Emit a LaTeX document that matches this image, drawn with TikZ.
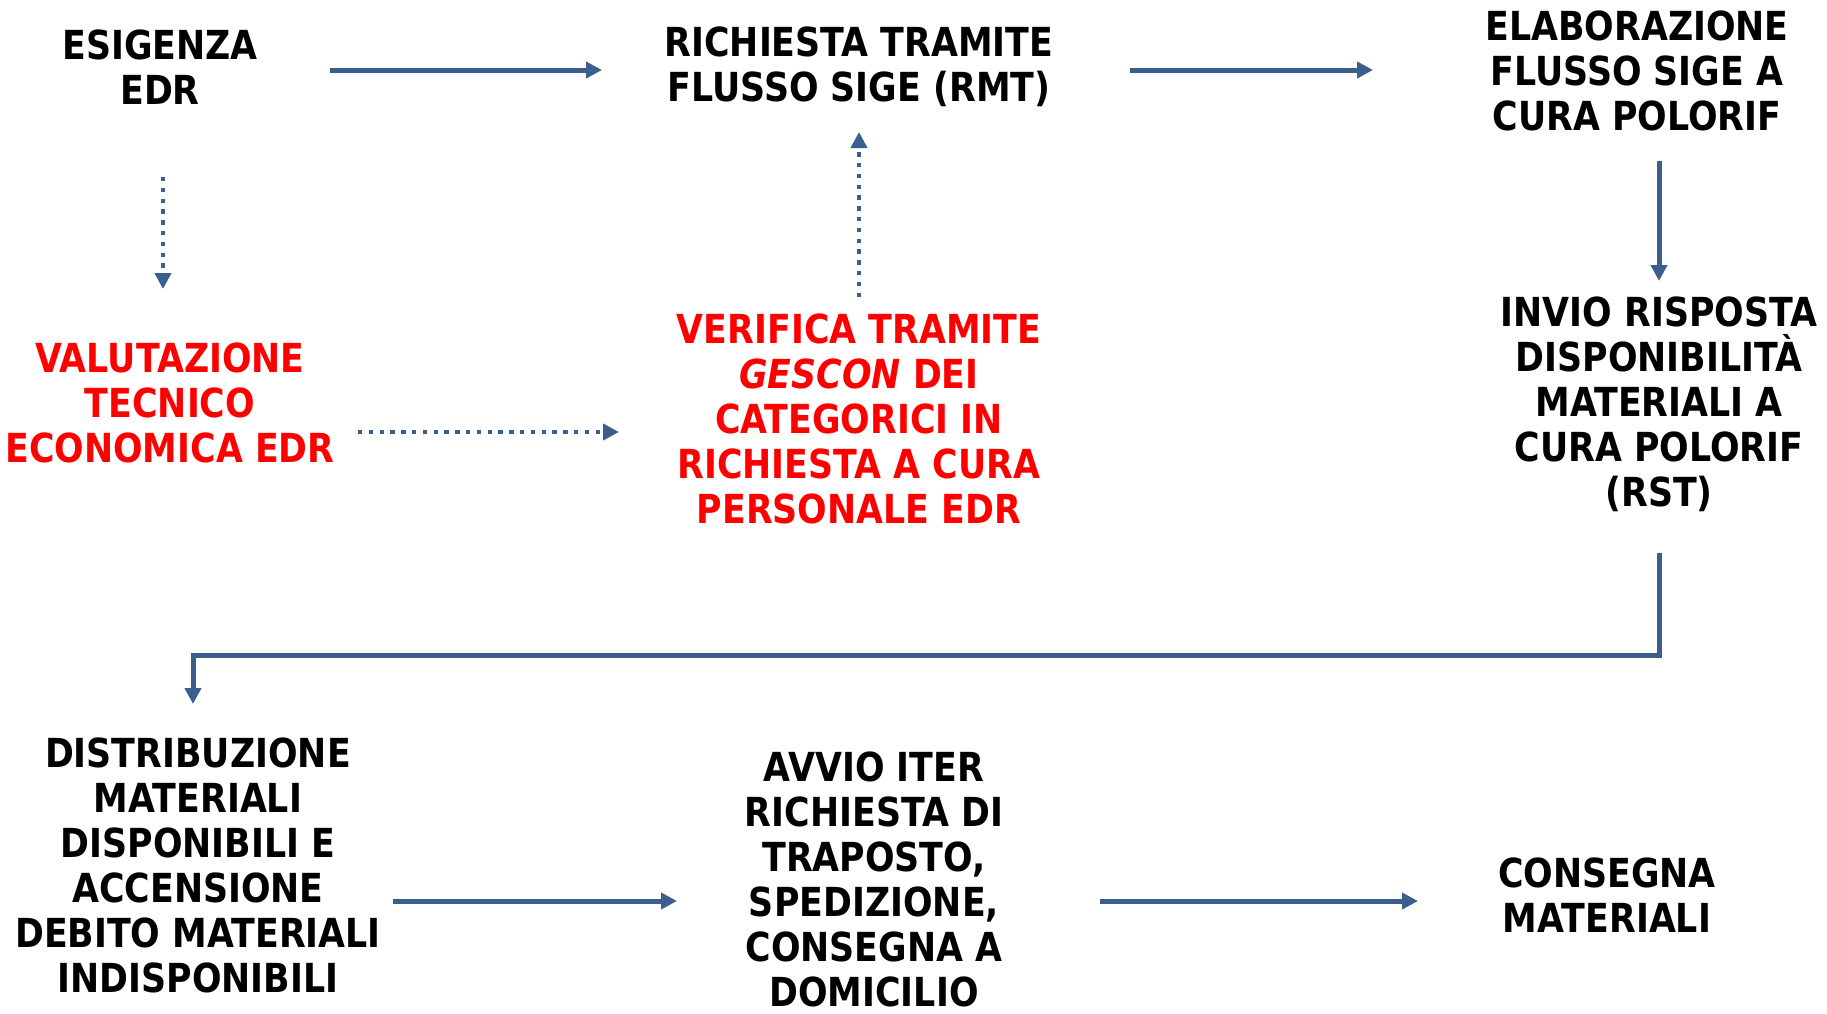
\documentclass[tikz,border=0pt]{standalone}
\usepackage{fontspec}
\setmainfont{DejaVu Sans}[FakeStretch=0.87]
\usetikzlibrary{arrows.meta,calc}
\definecolor{flowblue}{RGB}{58,95,140}
\definecolor{flowred}{RGB}{255,0,0}

\begin{document}
\begin{tikzpicture}[x=0.5pt,y=0.5pt,yscale=-1,xscale=1,
    lbl/.style={inner sep=0pt, align=center, font=\bfseries\fontsize{20}{22.5}\selectfont},
    redlbl/.style={lbl, text=flowred},
    flow/.style={color=flowblue, line width=2.5pt, -{Triangle[length=8pt,width=8pt]}},
    dotflow/.style={flow, line width=2.2pt, dash pattern=on 2.2pt off 3.2pt}]
            %set diagram left start at 0, and has height of 1013
            \useasboundingbox (0,0) rectangle (1827,1013);

            % Text Node
            \draw (160,67) node (esig) [lbl] {ESIGENZA\\EDR};
            % Text Node
            \draw (859,67) node (rmt) [lbl] {RICHIESTA TRAMITE\\FLUSSO SIGE (RMT)};
            % Text Node
            \draw (1637,71) node (elab) [lbl] {ELABORAZIONE\\FLUSSO SIGE A\\CURA POLORIF};
            % Text Node
            \draw (170,403) node (valut) [redlbl] {VALUTAZIONE\\TECNICO\\ECONOMICA EDR};
            % Text Node
            \draw (859,419) node (verif) [redlbl] {VERIFICA TRAMITE\\\textit{GESCON} DEI\\CATEGORICI IN\\RICHIESTA A CURA\\PERSONALE EDR};
            % Text Node
            \draw (1659,404) node (invio) [lbl] {INVIO RISPOSTA\\DISPONIBILITÀ\\MATERIALI A\\CURA POLORIF\\(RST)};
            % Text Node
            \draw (198,865) node (distr) [lbl] {DISTRIBUZIONE\\MATERIALI\\DISPONIBILI E\\ACCENSIONE\\DEBITO MATERIALI\\INDISPONIBILI};
            % Text Node
            \draw (874,879) node (avvio) [lbl] {AVVIO ITER\\RICHIESTA DI\\TRAPOSTO,\\SPEDIZIONE,\\CONSEGNA A\\DOMICILIO};
            % Text Node
            \draw (1607,895) node (cons) [lbl] {CONSEGNA\\MATERIALI};

            %Straight Lines
            \draw [flow, shorten <=85pt, shorten >=128.5pt] ($(esig.center)+(0,3)$) -- ($(rmt.center)+(0,3)$);
            %Straight Lines
            \draw [flow, shorten <=135.5pt, shorten >=132pt] ($(rmt.center)+(0,3)$) -- ($(rmt -| elab)+(0,3)$);
            %Straight Lines
            \draw [dotflow, shorten <=55pt, shorten >=57pt] ($(esig.center)+(3,0)$) -- ($(esig |- valut)+(3,0)$);
            %Straight Lines
            \draw [dotflow, shorten <=61pt, shorten >=32.5pt] (verif.center) -- (verif |- rmt);
            %Straight Lines
            \draw [dotflow, shorten <=94pt, shorten >=120pt] ($(valut.center)+(0,29)$) -- ($(valut -| verif)+(0,29)$);
            %Straight Lines
            \draw [flow, shorten <=45pt, shorten >=61.5pt] (invio |- elab) -- (invio.center);
            %Elbow Connector
            \draw [flow, shorten <=74.5pt, shorten >=80.5pt] (invio.center) -- ++(0,251) -| ($(distr.center)+(-5,0)$);
            %Straight Lines
            \draw [flow, shorten <=97.5pt, shorten >=98.5pt] ($(distr.center)+(0,36)$) -- ($(distr -| avvio)+(0,36)$);
            %Straight Lines
            \draw [flow, shorten <=113pt, shorten >=94.5pt] ($(avvio.center)+(0,22)$) -- ($(avvio -| cons)+(0,22)$);

        \end{tikzpicture}
\end{document}
